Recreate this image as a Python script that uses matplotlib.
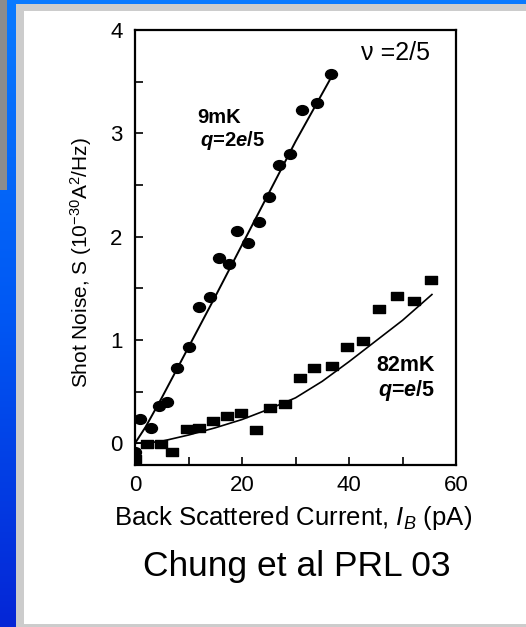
import numpy as np
import matplotlib
matplotlib.use("Agg")
import matplotlib.pyplot as plt
from matplotlib.path import Path
from matplotlib.patches import Rectangle
from matplotlib.colors import LinearSegmentedColormap

# ---- data: shot noise vs back scattered current ----
# 9 mK, nu = 2/5 (circles)
circ_x = [0.0, 0.9, 3.0, 4.5, 6.0, 7.9, 10.0, 12.0, 14.0, 15.7, 17.5,
          19.1, 21.1, 23.1, 25.0, 27.0, 29.0, 31.3, 34.0, 36.6]
circ_y = [-0.08, 0.24, 0.15, 0.36, 0.40, 0.73, 0.93, 1.32, 1.42, 1.79, 1.74,
          2.05, 1.94, 2.14, 2.38, 2.69, 2.80, 3.23, 3.29, 3.57]

# 82 mK (squares)
sq_x = [0.0, 2.3, 4.8, 7.0, 9.8, 12.0, 14.5, 17.2, 19.8, 22.6, 25.2,
        28.0, 30.8, 33.5, 36.8, 39.7, 42.7, 45.7, 49.0, 52.1, 55.4]
sq_y = [-0.15, -0.01, -0.01, -0.08, 0.14, 0.15, 0.22, 0.26, 0.29, 0.13, 0.34,
        0.38, 0.63, 0.73, 0.75, 0.93, 0.99, 1.30, 1.43, 1.38, 1.58]

# theory curves
fit9_x = [0, 2, 5, 10, 15, 20, 25, 30, 37.3]
fit9_y = [0, 0.16, 0.44, 0.93, 1.42, 1.92, 2.42, 2.92, 3.60]

fit82_x = [0, 2.5, 5, 7.5, 10, 15, 20, 25, 30, 35, 40, 45, 50, 55.5]
fit82_y = [0, 0.005, 0.02, 0.05, 0.08, 0.15, 0.23, 0.33, 0.44, 0.60, 0.79, 0.99, 1.19, 1.44]

x_ticks = [0, 20, 40, 60]
y_ticks = [0, 1, 2, 3, 4]

# ---- fonts ----
plt.rcParams["font.family"] = ["Liberation Sans", "DejaVu Sans"]
plt.rcParams["mathtext.fontset"] = "custom"
plt.rcParams["mathtext.rm"] = "Liberation Sans"
plt.rcParams["mathtext.it"] = "Liberation Sans:italic"
plt.rcParams["mathtext.bf"] = "Liberation Sans:bold"
plt.rcParams["mathtext.bfit"] = "Liberation Sans:italic:bold"

W, H = 526, 627
fig = plt.figure(figsize=(W / 100, H / 100), dpi=100, facecolor="white")


def px_box(x0, y0, x1, y1):
    # pixel box measured from the top-left corner -> figure fraction rect
    return [x0 / W, 1 - y1 / H, (x1 - x0) / W, (y1 - y0) / H]


def add_rect(x0, y0, x1, y1, color):
    l, b, w, h = px_box(x0, y0, x1, y1)
    fig.add_artist(Rectangle((l, b), w, h, transform=fig.transFigure,
                             facecolor=color, edgecolor="none"))


# slide frame: blue gradient on the left, grey borders
gax = fig.add_axes(px_box(0, 0, 16, H))
slide_cmap = LinearSegmentedColormap.from_list("slide", ["#0a7aff", "#0058f4", "#0526d6"])
gax.imshow(np.linspace(0, 1, 256).reshape(-1, 1), aspect="auto", cmap=slide_cmap,
           extent=[0, 1, 0, 1])
gax.axis("off")

add_rect(7, 0, W, 4, "#0a7aff")
add_rect(0, 0, 7, 190, "#8c8c8c")
add_rect(16, 4, W, 11, "#cccccc")
add_rect(16, 4, 24, H, "#cccccc")
add_rect(24, 624, W, H, "#cccccc")

# ---- main plot ----
ax = fig.add_axes(px_box(135, 30, 456, 465))

ell_verts = Path.unit_circle().vertices * np.array([1.0, 0.82])
ell_marker = Path(ell_verts, Path.unit_circle().codes)
box_marker = Path([(-1, -0.72), (1, -0.72), (1, 0.72), (-1, 0.72), (-1, -0.72)], closed=True)

ax.plot(fit9_x, fit9_y, color="black", lw=1.4)
ax.plot(fit82_x, fit82_y, color="black", lw=1.2)
ax.plot(circ_x, circ_y, linestyle="none", marker=ell_marker, ms=8.6, color="black")
ax.plot(sq_x, sq_y, linestyle="none", marker=box_marker, ms=8.8, color="black")

ax.set_xlim(0, 60)
ax.set_ylim(-0.21, 4.0)
ax.set_xticks(x_ticks)
ax.set_xticks([10, 30, 50], minor=True)
ax.set_yticks(y_ticks)
ax.set_yticks([0.5, 1.5, 2.5, 3.5], minor=True)
ax.tick_params(which="both", direction="in", length=6, width=1.2, labelsize=16)
ax.tick_params(axis="y", which="major", pad=9)
ax.tick_params(axis="x", which="major", pad=7)
for sp in ax.spines.values():
    sp.set_linewidth(1.6)

ax.text(42.2, 3.78, "ν =2/5", fontsize=18, ha="left", va="center")
ax.text(11.6, 3.10, "9mK", fontsize=14.5, fontweight="bold", ha="left", va="baseline")
ax.text(12.1, 2.875, r"$\mathbfit{q}$=2$\mathbfit{e}$/5", fontsize=14.5, fontweight="bold",
        ha="left", va="baseline")
ax.text(45.2, 0.70, "82mK", fontsize=15.5, fontweight="bold", ha="left", va="baseline")
ax.text(45.4, 0.455, r"$\mathbfit{q}$=$\mathbfit{e}$/5", fontsize=15.5, fontweight="bold",
        ha="left", va="baseline")

# axis titles and citation placed in pixel positions on the figure
fig.text(81 / W, 1 - 263 / H, r"Shot Noise, S (10$^{-30}$A$^{2}$/Hz)", fontsize=15,
         rotation=90, ha="center", va="center")
fig.text(293 / W, 1 - 525 / H, r"Back Scattered Current, $I_{B}$ (pA)", fontsize=18.5,
         ha="center", va="baseline")
fig.text(297 / W, 1 - 576 / H, "Chung et al PRL 03", fontsize=25.5,
         ha="center", va="baseline")

fig.savefig("out.png", dpi=100, facecolor="white")
